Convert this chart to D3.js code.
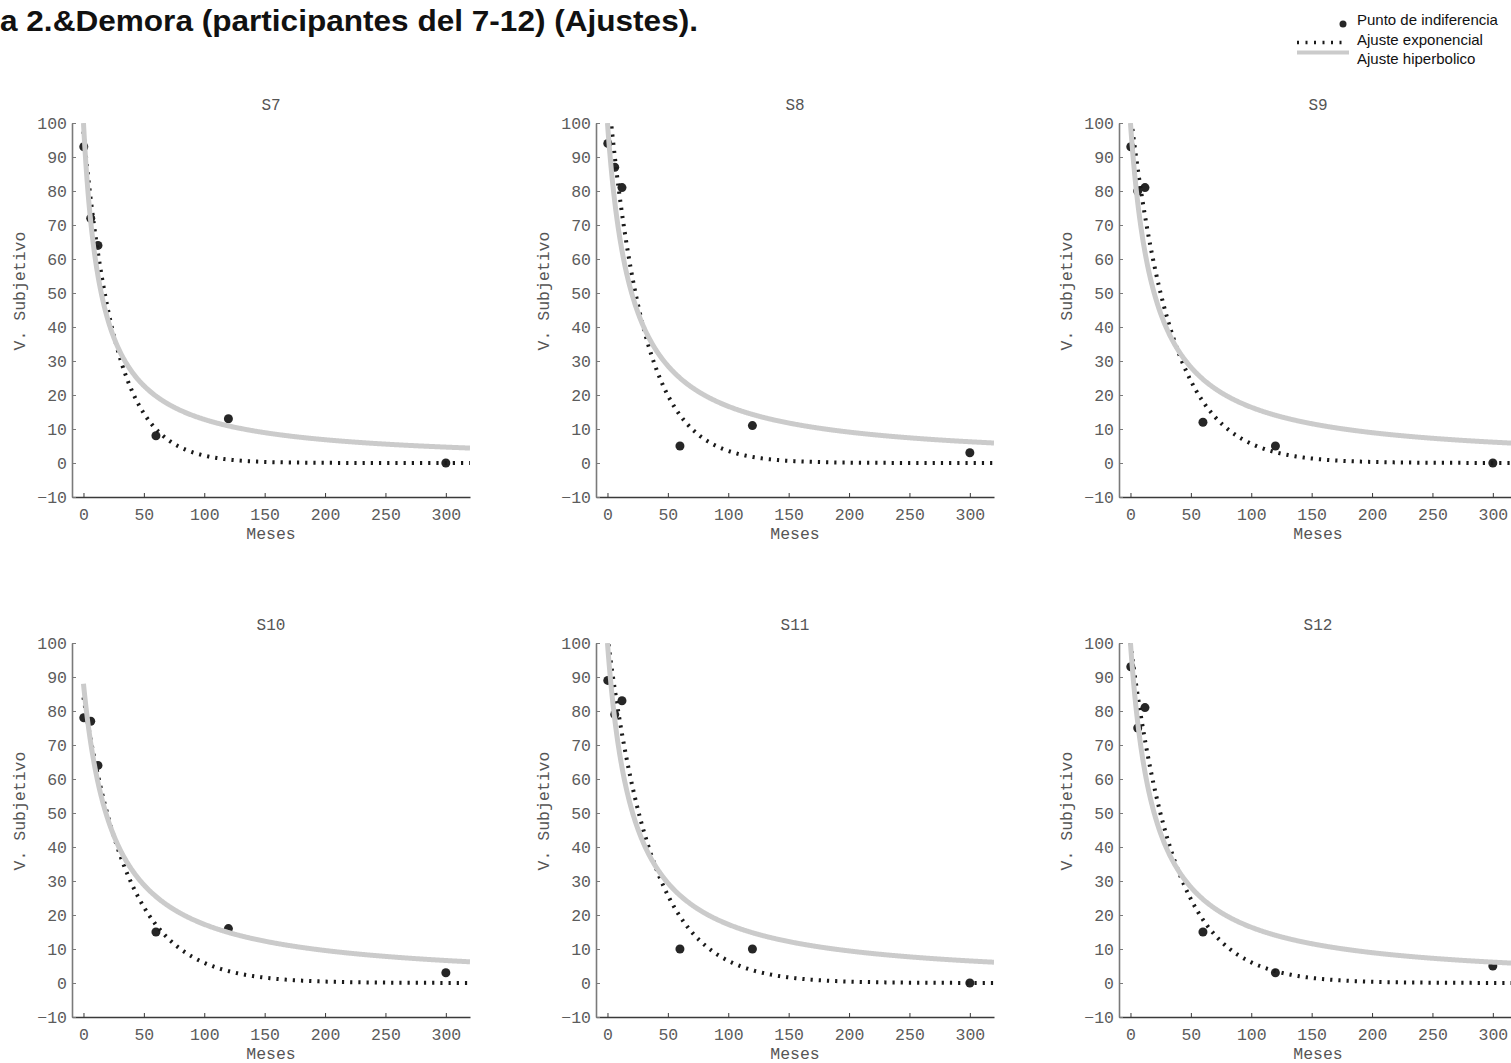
<!DOCTYPE html>
<html>
<head>
<meta charset="utf-8">
<script src="https://cdn.jsdelivr.net/npm/d3@7"></script>
<style>
  body { margin: 0; background: #fff; }
  svg { display: block; }
</style>
</head>
<body>
<script>
// Participants and delays (months)
const subjects = ["S7", "S8", "S9", "S10", "S11", "S12"];
const delays = [0.25, 6, 12, 60, 120, 300];

// Indifference points (subjective value) per participant, one per delay
const indifS7  = [93, 72, 64, 8, 13, 0];
const indifS8  = [94, 87, 81, 5, 11, 3];
const indifS9  = [93, 80, 81, 12, 5, 0];
const indifS10 = [78, 77, 64, 15, 16, 3];
const indifS11 = [89, 79, 83, 10, 10, 0];
const indifS12 = [93, 75, 81, 15, 3, 5];
const indifference = [indifS7, indifS8, indifS9, indifS10, indifS11, indifS12];

// Exponential fit V = a * exp(-k * D)
const expA = [97.5, 111, 103, 84, 102, 100];
const expK = [0.038, 0.0344, 0.029, 0.0265, 0.0275, 0.028];

// Hyperbolic fit V = a / (1 + k * D)
const hypA = [100, 100, 100, 88, 100, 100];
const hypK = [0.068, 0.05, 0.051, 0.041, 0.048, 0.051];

// Axis ticks
const xTicks = [0, 50, 100, 150, 200, 250, 300];
const yTicks = [-10, 0, 10, 20, 30, 40, 50, 60, 70, 80, 90, 100];

const figTitle = "a 2.&Demora (participantes del 7-12) (Ajustes).";
const legendLabels = ["Punto de indiferencia", "Ajuste exponencial", "Ajuste hiperbolico"];

const W = 1511, H = 1063;
const colX = [72, 596, 1119];
const rowY = [123, 643];
const pw = 398, ph = 374;

const mono = "'Liberation Mono', 'Courier New', monospace";
const sans = "'Liberation Sans', Arial, sans-serif";

const svg = d3.select("body").append("svg")
  .attr("width", W).attr("height", H)
  .attr("viewBox", `0 0 ${W} ${H}`);

const x = d3.scaleLinear().domain([-9.5, 320]).range([0, pw]);
const y = d3.scaleLinear().domain([-10, 100]).range([ph, 0]);

// dense evaluation grid for the fitted curves
const grid = d3.range(0, 320.01, 0.5);
const line = d3.line().x(d => x(d[0])).y(d => y(d[1]));

const defs = svg.append("defs");
defs.append("clipPath").attr("id", "plotArea")
  .append("rect").attr("x", 0).attr("y", 0).attr("width", pw).attr("height", ph);

subjects.forEach((name, i) => {
  const g = svg.append("g")
    .attr("transform", `translate(${colX[i % 3]},${rowY[Math.floor(i / 3)]})`);

  // axes
  const ax = g.append("g").attr("transform", `translate(0,${ph})`)
    .call(d3.axisBottom(x).tickValues(xTicks).tickSize(-4).tickSizeOuter(0).tickPadding(11));
  ax.select(".domain").attr("stroke", "#3a3a3a").attr("stroke-width", 1.4);
  ax.selectAll(".tick line").attr("stroke", "#3a3a3a");

  const ay = g.append("g")
    .call(d3.axisLeft(y).tickValues(yTicks).tickSize(-4).tickSizeOuter(0).tickPadding(5));
  ay.select(".domain").attr("stroke", "#7a7a7a").attr("stroke-width", 1.6);
  ay.selectAll(".tick line").attr("stroke", "#7a7a7a");

  g.selectAll(".tick text")
    .attr("font-family", mono).attr("font-size", 16.5).attr("fill", "#5c5c5c");

  // titles and labels
  g.append("text").attr("x", pw / 2).attr("y", -13)
    .attr("text-anchor", "middle").attr("font-family", mono).attr("font-size", 16)
    .attr("fill", "#555").text(name);
  g.append("text").attr("x", pw / 2).attr("y", ph + 42)
    .attr("text-anchor", "middle").attr("font-family", mono).attr("font-size", 16.5)
    .attr("fill", "#555").text("Meses");
  g.append("text")
    .attr("transform", `translate(-52,168) rotate(-90)`)
    .attr("text-anchor", "middle").attr("dominant-baseline", "central")
    .attr("font-family", mono).attr("font-size", 16.5)
    .attr("fill", "#555").text("V. Subjetivo");

  // indifference points
  g.selectAll("circle.pt").data(delays.map((d, j) => [d, indifference[i][j]]))
    .join("circle").attr("class", "pt")
    .attr("cx", d => x(d[0])).attr("cy", d => y(d[1]))
    .attr("r", 4.5).attr("fill", "#262626");

  const plot = g.append("g").attr("clip-path", "url(#plotArea)");

  // exponential fit (dotted)
  plot.append("path")
    .datum(grid.map(t => [t, expA[i] * Math.exp(-expK[i] * t)]))
    .attr("d", line).attr("fill", "none")
    .attr("stroke", "#1a1a1a").attr("stroke-width", 4)
    .attr("stroke-dasharray", "2.2,6");

  // hyperbolic fit (thick grey)
  plot.append("path")
    .datum(grid.map(t => [t, hypA[i] / (1 + hypK[i] * t)]))
    .attr("d", line).attr("fill", "none")
    .attr("stroke", "#cbcbcb").attr("stroke-width", 5);
});

// figure title
svg.append("text").attr("x", 0).attr("y", 31)
  .attr("font-family", sans).attr("font-weight", "bold").attr("font-size", 30)
  .attr("fill", "#111")
  .attr("textLength", 698).attr("lengthAdjust", "spacingAndGlyphs")
  .text(figTitle);

// legend
const lg = svg.append("g");
lg.append("circle").attr("cx", 1343).attr("cy", 24).attr("r", 3.5).attr("fill", "#262626");
lg.append("line").attr("x1", 1297).attr("x2", 1342).attr("y1", 42.5).attr("y2", 42.5)
  .attr("stroke", "#1a1a1a").attr("stroke-width", 3.5).attr("stroke-dasharray", "2,6.5");
lg.append("line").attr("x1", 1297).attr("x2", 1349).attr("y1", 52.5).attr("y2", 52.5)
  .attr("stroke", "#cbcbcb").attr("stroke-width", 4);
legendLabels.forEach((t, j) => {
  lg.append("text").attr("x", 1357).attr("y", [25, 44.5, 64][j])
    .attr("font-family", sans).attr("font-size", 15).attr("fill", "#111").text(t);
});
</script>
</body>
</html>
